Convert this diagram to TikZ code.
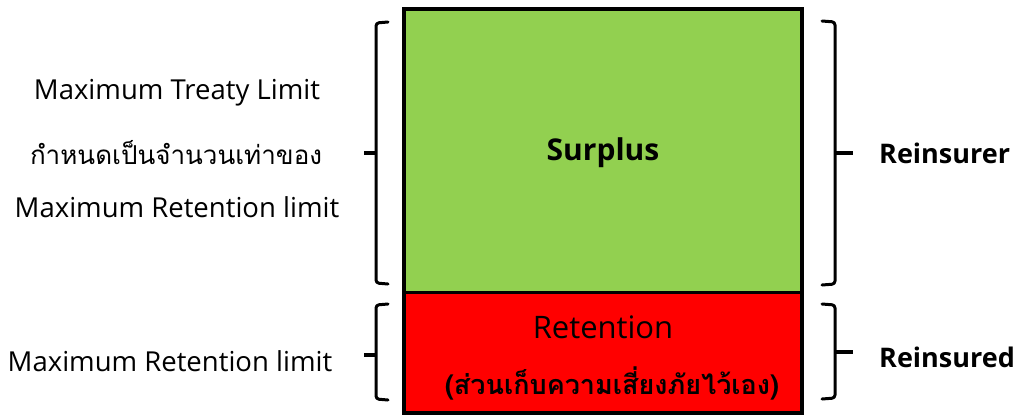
\documentclass[tikz,border=0pt]{standalone}
\usepackage{fontspec}
\setmainfont{Open Sans}
\newfontfamily\thaifont[Script=Thai]{Loma}
\begin{document}
\begin{tikzpicture}[x=1pt,y=-1pt,
  lbl/.style={font=\fontsize{27.5}{30}\selectfont, inner sep=0pt, align=center},
  blbl/.style={font=\fontsize{27}{30}\selectfont\bfseries, inner sep=0pt},
  brace/.style={line width=3pt, rounded corners=3pt, line cap=round, line join=round},
  tick/.style={line width=3.5pt}]
\useasboundingbox (0,0) rectangle (1019,416);
% boxes
\fill[fill={rgb,255:red,146;green,208;blue,80}] (404,9) rectangle (802,292);
\fill[fill={rgb,255:red,255;green,0;blue,0}] (404,292) rectangle (802,413);
\draw[line width=4pt] (404,9) rectangle (802,413);
\draw[line width=3pt] (404,292) -- (802,292);
% box texts
\node[blbl, font=\fontsize{30}{30}\selectfont\bfseries] (surplus) at (603,153) {Surplus};
\node[inner sep=0pt, font=\fontsize{31}{30}\selectfont] (ret) at (603,327) {Retention};
\node[inner sep=0pt, font=\fontsize{27}{30}\selectfont\thaifont\bfseries] (retth) at (612,383) {(ส่วนเก็บความเสี่ยงภัยไว้เอง)};
% left texts
\node[lbl] (l1) at (177,93) {Maximum Treaty Limit};
\node[inner sep=0pt, font=\fontsize{26}{30}\selectfont\thaifont] (l2) at (176,153) {กำหนดเป็นจำนวนเท่าของ};
\node[lbl] (l3) at (177,207) {Maximum Retention limit};
\node[lbl] (l4) at (170,361) {Maximum Retention limit};
% right texts
\node[blbl, anchor=west] (r1) at (879,153) {Reinsurer};
\node[blbl, anchor=west] (r2) at (879,357) {Reinsured};
% left braces
\draw[brace] (388,22) -- (376,23) -- (376,283) -- (388,284);
\draw[tick] (376,153) -- (364,153);
\draw[brace] (388,304) -- (376,305) -- (376,399) -- (388,400);
\draw[tick] (376,355) -- (364,355);
% right braces
\draw[brace] (822,21) -- (835,22) -- (835,284) -- (822,285);
\draw[tick] (835,153) -- (853,153);
\draw[brace] (822,304) -- (835,305) -- (835,398) -- (822,399);
\draw[tick] (835,352) -- (853,352);
\end{tikzpicture}
\end{document}
